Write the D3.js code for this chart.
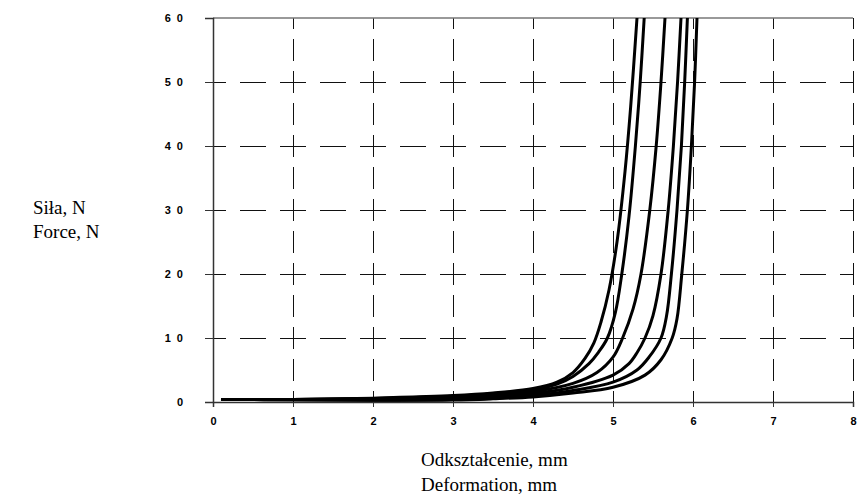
<!DOCTYPE html>
<html>
<head>
<meta charset="utf-8">
<script src="https://cdn.jsdelivr.net/npm/d3@7"></script>
<style>
  html,body{margin:0;padding:0;background:#fff;}
  svg{display:block;}
</style>
</head>
<body>
<div id="chart"></div>
<script>
// axis ticks
const xTicks = [0,1,2,3,4,5,6,7,8];
const yTicks = [0,10,20,30,40,50,60];
const yTickLabels = ['0','1\u00a0\u00a00','2\u00a0\u00a00','3\u00a0\u00a00','4\u00a0\u00a00','5\u00a0\u00a00','6\u00a0\u00a00'];

// force-deformation curves, [deformation mm, force N]
const curve1 = [[0.1,0.4],[1,0.4],[2,0.6],[2.5,0.8],[3,1.0],[3.5,1.4],[4,2.1],[4.3,3.1],[4.5,4.6],[4.65,6.8],[4.76,9.2],[4.85,12.5],[4.95,17.5],[5.05,25],[5.15,36],[5.22,46],[5.30,60]];
const curve2 = [[0.1,0.4],[1,0.4],[2,0.55],[2.5,0.7],[3,0.9],[3.5,1.3],[4,1.9],[4.3,2.8],[4.5,4.0],[4.7,6.0],[4.82,7.8],[4.93,10],[5.03,14],[5.11,20],[5.2,29],[5.28,40],[5.34,50],[5.39,60]];
const curve3 = [[0.1,0.4],[1,0.4],[2,0.5],[3,0.7],[3.5,1.0],[4,1.6],[4.5,2.9],[4.8,4.6],[5.0,7.0],[5.12,10],[5.25,14.5],[5.35,20],[5.46,30],[5.54,40],[5.6,50],[5.65,60]];
const curve4 = [[0.1,0.4],[1,0.35],[2,0.35],[3,0.5],[3.5,0.8],[4,1.3],[4.5,2.3],[5,4.2],[5.2,6.0],[5.3,7.7],[5.4,10],[5.5,13.5],[5.6,20],[5.69,30],[5.755,40],[5.807,50],[5.85,60]];
const curve5 = [[0.1,0.4],[1,0.35],[2,0.3],[3,0.4],[3.5,0.6],[4,1.0],[4.5,1.8],[5,3.1],[5.3,5.0],[5.45,7.0],[5.6,10],[5.67,13.5],[5.73,20],[5.8,30],[5.855,40],[5.896,50],[5.93,60]];
const curve6 = [[0.1,0.4],[1,0.35],[2,0.25],[3,0.3],[3.5,0.5],[4,0.8],[4.5,1.4],[5,2.3],[5.4,4.2],[5.6,6.6],[5.74,10],[5.8,13],[5.86,20],[5.93,30],[5.98,40],[6.02,50],[6.05,60]];
const curves = [curve1,curve2,curve3,curve4,curve5,curve6];

const yTitle = ['Siła, N','Force, N'];
const xTitle = ['Odkształcenie, mm','Deformation, mm'];

const W=860, H=494;
const m={left:213, right:7, top:18, bottom:92};

const svg=d3.select('#chart').append('svg').attr('width',W).attr('height',H);

const x=d3.scaleLinear().domain([0,8]).range([m.left,W-m.right]);
const y=d3.scaleLinear().domain([0,60]).range([H-m.bottom,m.top]);

// dashed grid, a dash across every crossing
const hPeriod=(x(1)-x(0))/2, vPeriod=(y(0)-y(10))/2;
svg.append('g').selectAll('line').data(yTicks.filter(d=>d>0&&d<60)).join('line')
  .attr('x1',x(0)).attr('x2',x(8)).attr('y1',d=>y(d)+.5).attr('y2',d=>y(d)+.5)
  .attr('stroke','#111').attr('stroke-width',1)
  .attr('stroke-dasharray',`26,${hPeriod-26}`).attr('stroke-dashoffset',13);
svg.append('g').selectAll('line').data(xTicks.filter(d=>d>0)).join('line')
  .attr('x1',d=>x(d)+.5).attr('x2',d=>x(d)+.5).attr('y1',y(0)).attr('y2',y(60))
  .attr('stroke','#111').attr('stroke-width',1)
  .attr('stroke-dasharray',`22,${vPeriod-22}`).attr('stroke-dashoffset',11);

// top border
svg.append('line').attr('x1',x(0)).attr('x2',x(8)).attr('y1',y(60)).attr('y2',y(60))
  .attr('stroke','#777').attr('stroke-width',1.5);

// curves
const line=d3.line().x(d=>x(d[0])).y(d=>y(d[1])).curve(d3.curveCatmullRom.alpha(0.5));
svg.append('g').selectAll('path').data(curves).join('path')
  .attr('d',line).attr('fill','none').attr('stroke','#000')
  .attr('stroke-width',3).attr('stroke-linejoin','round');

// axes
const xAxis=d3.axisBottom(x).tickValues(xTicks).tickSize(5).tickPadding(10).tickFormat(d3.format('d'));
const yAxis=d3.axisLeft(y).tickValues(yTicks).tickSize(8).tickFormat((d,i)=>yTickLabels[i]);
const gx=svg.append('g').attr('transform',`translate(0,${y(0)})`).call(xAxis);
const gy=svg.append('g').attr('transform',`translate(${x(0)},0)`).call(yAxis);
[gx,gy].forEach(g=>{
  g.select('.domain').attr('stroke','#333').attr('stroke-width',1.5);
  g.selectAll('.tick line').attr('stroke','#333');
  g.selectAll('text').attr('fill','#000').attr('font-family','Liberation Sans, Arial, sans-serif')
    .attr('font-size','11px').attr('font-weight','bold');
});
gy.selectAll('text').attr('text-anchor','end').attr('x',-30);

// titles
svg.append('g').selectAll('text').data(yTitle).join('text')
  .attr('x',33).attr('y',(d,i)=>214+i*24)
  .attr('font-family','Liberation Serif, Times New Roman, serif').attr('font-size','19px')
  .attr('fill','#000').text(d=>d);
svg.append('g').selectAll('text').data(xTitle).join('text')
  .attr('x',421).attr('y',(d,i)=>466+i*25)
  .attr('font-family','Liberation Serif, Times New Roman, serif').attr('font-size','19px')
  .attr('fill','#000').text(d=>d);
</script>
</body>
</html>
